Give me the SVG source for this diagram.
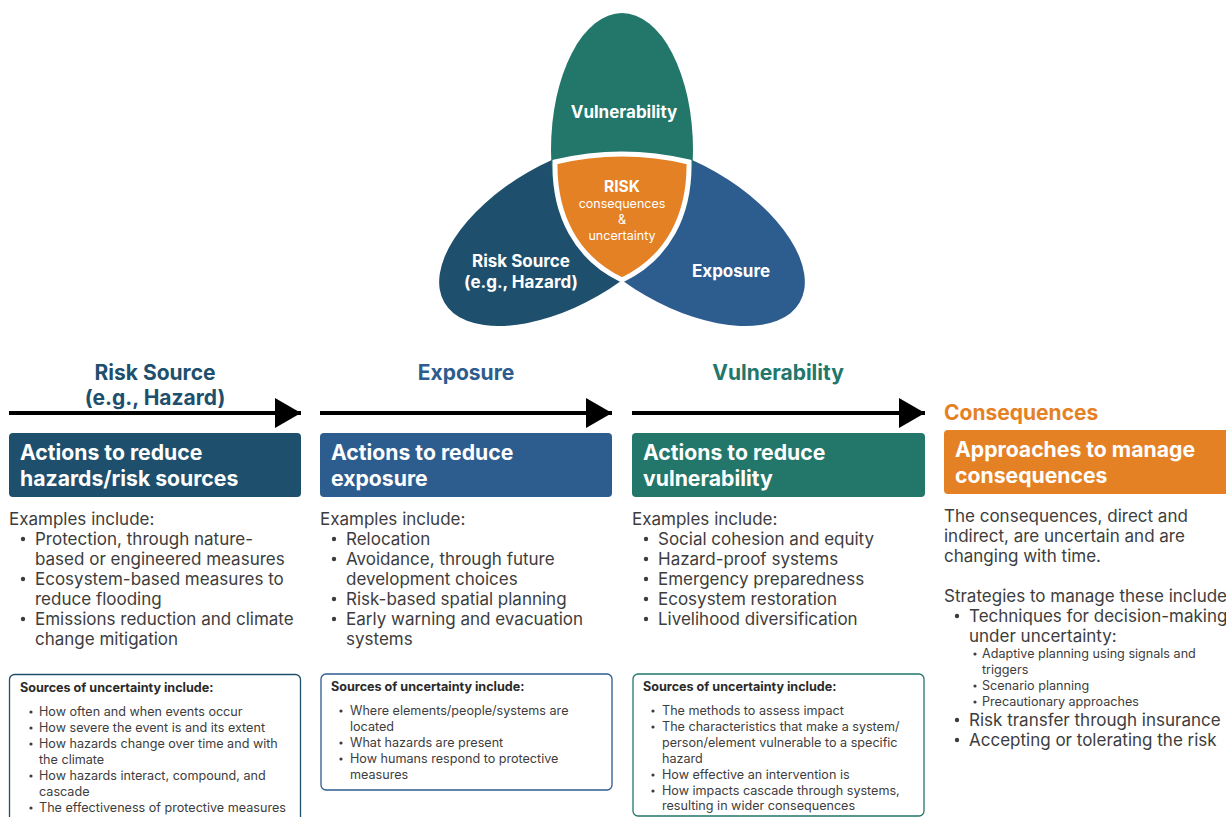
<svg xmlns="http://www.w3.org/2000/svg" width="1226" height="817" viewBox="0 0 1226 817">
  <defs>
    <style>
      text { font-family: Inter, "Liberation Sans", sans-serif; }
      .petal-label { fill: #ffffff; font-weight: 700; font-size: 17px; text-anchor: middle; }
      .risk-small { fill: #ffffff; font-size: 12.5px; text-anchor: middle; }
      .col-head { font-weight: 700; font-size: 21px; text-anchor: middle; }
      .box-title { fill: #ffffff; font-weight: 700; font-size: 21.2px; }
      .body { fill: #3d3d3d; font-size: 17px; }
      .small { fill: #3d3d3d; font-size: 12.6px; }
      .small-title { fill: #2a2a2a; font-size: 12.6px; font-weight: 700; }
      .sub { fill: #3d3d3d; font-size: 12.6px; }
      .dot { fill: #3d3d3d; }
      .arrow-line { stroke: #000000; stroke-width: 4; }
      .unc { fill: #ffffff; stroke-width: 1.3; }
    </style>
    <marker id="arrowhead" viewBox="0 0 26 30" refX="26" refY="15" markerWidth="26" markerHeight="30" markerUnits="userSpaceOnUse" orient="auto">
      <path d="M0,0 L26,15 L0,30 Z" fill="#000000"/>
    </marker>
    <clipPath id="upper-part">
      <rect x="0" y="0" width="1226" height="210"/>
    </clipPath>
  </defs>

  <rect width="1226" height="817" fill="#ffffff"/>

  <!-- Three-petal risk diagram -->
  <g id="venn">
    <g id="petal-risk-source">
      <ellipse cx="563" cy="234" rx="137" ry="71" transform="rotate(-30 563 234)" fill="#1e4f6c"/>
    </g>
    <g id="petal-exposure">
      <ellipse cx="681" cy="234" rx="137" ry="71" transform="rotate(30 681 234)" fill="#2d5c8e"/>
    </g>
    <g id="petal-vulnerability">
      <ellipse cx="622" cy="150" rx="71" ry="137" fill="#22766a" clip-path="url(#upper-part)"/>
    </g>
    <g id="risk-core">
      <path d="M555,162 Q622,146 689,162 C690,215 668,258 622,280 C576,258 554,215 555,162 Z" fill="#e58125" stroke="#ffffff" stroke-width="5" stroke-linejoin="miter"/>
      <text x="622" y="192" class="petal-label" style="font-size:15.5px">RISK</text>
      <text x="622" y="208" class="risk-small">consequences</text>
      <text x="622" y="224" class="risk-small">&amp;</text>
      <text x="622" y="240" class="risk-small">uncertainty</text>
    </g>
    <text x="624" y="118" class="petal-label">Vulnerability</text>
    <text x="521" y="267" class="petal-label">Risk Source</text>
    <text x="521" y="288" class="petal-label">(e.g., Hazard)</text>
    <text x="731" y="277" class="petal-label">Exposure</text>
  </g>

  <!-- Flow arrows between stages -->
  <g id="connectors">
    <line x1="9" y1="413" x2="301" y2="413" class="arrow-line" marker-end="url(#arrowhead)"/>
    <line x1="320" y1="413" x2="612" y2="413" class="arrow-line" marker-end="url(#arrowhead)"/>
    <line x1="632" y1="413" x2="925" y2="413" class="arrow-line" marker-end="url(#arrowhead)"/>
  </g>

  <!-- Column 1: risk source -->
  <g id="col-risk-source">
    <text x="155" y="380" class="col-head" fill="#1e4f6c">Risk Source</text>
    <text x="155" y="405" class="col-head" fill="#1e4f6c">(e.g., Hazard)</text>
    <rect x="9" y="433" width="292" height="64" rx="4" fill="#1e4f6c"/>
    <text x="20" y="460" class="box-title">Actions to reduce</text>
    <text x="20" y="486" class="box-title">hazards/risk sources</text>
    <text x="9" y="525" class="body">Examples include:</text>
    <circle cx="23" cy="539" r="2.2" class="dot"/>
    <text x="35" y="545" class="body">Protection, through nature-</text>
    <text x="35" y="565" class="body">based or engineered measures</text>
    <circle cx="23" cy="579" r="2.2" class="dot"/>
    <text x="35" y="585" class="body">Ecosystem-based measures to</text>
    <text x="35" y="605" class="body">reduce flooding</text>
    <circle cx="23" cy="619" r="2.2" class="dot"/>
    <text x="35" y="625" class="body">Emissions reduction and climate</text>
    <text x="35" y="645" class="body">change mitigation</text>
    <rect x="9.5" y="674.5" width="291" height="150" rx="5" class="unc" stroke="#1e4f6c"/>
    <text x="20" y="692" class="small-title">Sources of uncertainty include:</text>
    <circle cx="31" cy="712" r="1.6" class="dot"/>
    <text x="39" y="716" class="small">How often and when events occur</text>
    <circle cx="31" cy="728" r="1.6" class="dot"/>
    <text x="39" y="732" class="small">How severe the event is and its extent</text>
    <circle cx="31" cy="744" r="1.6" class="dot"/>
    <text x="39" y="748" class="small">How hazards change over time and with</text>
    <text x="39" y="764" class="small">the climate</text>
    <circle cx="31" cy="776" r="1.6" class="dot"/>
    <text x="39" y="780" class="small">How hazards interact, compound, and</text>
    <text x="39" y="796" class="small">cascade</text>
    <circle cx="31" cy="808" r="1.6" class="dot"/>
    <text x="39" y="812" class="small">The effectiveness of protective measures</text>
  </g>

  <!-- Column 2: exposure -->
  <g id="col-exposure">
    <text x="466" y="380" class="col-head" fill="#2d5c8e">Exposure</text>
    <rect x="320" y="433" width="292" height="64" rx="4" fill="#2d5c8e"/>
    <text x="331" y="460" class="box-title">Actions to reduce</text>
    <text x="331" y="486" class="box-title">exposure</text>
    <text x="320" y="525" class="body">Examples include:</text>
    <circle cx="334" cy="539" r="2.2" class="dot"/>
    <text x="346" y="545" class="body">Relocation</text>
    <circle cx="334" cy="559" r="2.2" class="dot"/>
    <text x="346" y="565" class="body">Avoidance, through future</text>
    <text x="346" y="585" class="body">development choices</text>
    <circle cx="334" cy="599" r="2.2" class="dot"/>
    <text x="346" y="605" class="body">Risk-based spatial planning</text>
    <circle cx="334" cy="619" r="2.2" class="dot"/>
    <text x="346" y="625" class="body">Early warning and evacuation</text>
    <text x="346" y="645" class="body">systems</text>
    <rect x="321" y="674" width="291" height="116" rx="5" class="unc" stroke="#2d5c8e"/>
    <text x="331" y="691" class="small-title">Sources of uncertainty include:</text>
    <circle cx="341" cy="711" r="1.6" class="dot"/>
    <text x="350" y="715" class="small">Where elements/people/systems are</text>
    <text x="350" y="731" class="small">located</text>
    <circle cx="341" cy="743" r="1.6" class="dot"/>
    <text x="350" y="747" class="small">What hazards are present</text>
    <circle cx="341" cy="759" r="1.6" class="dot"/>
    <text x="350" y="763" class="small">How humans respond to protective</text>
    <text x="350" y="779" class="small">measures</text>
  </g>

  <!-- Column 3: vulnerability -->
  <g id="col-vulnerability">
    <text x="778" y="380" class="col-head" fill="#22766a">Vulnerability</text>
    <rect x="632" y="433" width="293" height="64" rx="4" fill="#22766a"/>
    <text x="643" y="460" class="box-title">Actions to reduce</text>
    <text x="643" y="486" class="box-title">vulnerability</text>
    <text x="632" y="525" class="body">Examples include:</text>
    <circle cx="646" cy="539" r="2.2" class="dot"/>
    <text x="658" y="545" class="body">Social cohesion and equity</text>
    <circle cx="646" cy="559" r="2.2" class="dot"/>
    <text x="658" y="565" class="body">Hazard-proof systems</text>
    <circle cx="646" cy="579" r="2.2" class="dot"/>
    <text x="658" y="585" class="body">Emergency preparedness</text>
    <circle cx="646" cy="599" r="2.2" class="dot"/>
    <text x="658" y="605" class="body">Ecosystem restoration</text>
    <circle cx="646" cy="619" r="2.2" class="dot"/>
    <text x="658" y="625" class="body">Livelihood diversification</text>
    <rect x="633" y="674" width="291" height="142" rx="5" class="unc" stroke="#22766a"/>
    <text x="643" y="691" class="small-title">Sources of uncertainty include:</text>
    <circle cx="653" cy="711" r="1.6" class="dot"/>
    <text x="662" y="715" class="small">The methods to assess impact</text>
    <circle cx="653" cy="727" r="1.6" class="dot"/>
    <text x="662" y="731" class="small">The characteristics that make a system/</text>
    <text x="662" y="747" class="small">person/element vulnerable to a specific</text>
    <text x="662" y="763" class="small">hazard</text>
    <circle cx="653" cy="775" r="1.6" class="dot"/>
    <text x="662" y="779" class="small">How effective an intervention is</text>
    <circle cx="653" cy="791" r="1.6" class="dot"/>
    <text x="662" y="795" class="small">How impacts cascade through systems,</text>
    <text x="662" y="810" class="small">resulting in wider consequences</text>
  </g>

  <!-- Column 4: consequences -->
  <g id="col-consequences">
    <text x="944" y="420" font-weight="700" font-size="21px" fill="#e58125">Consequences</text>
    <rect x="944" y="430" width="290" height="64" rx="4" fill="#e58125"/>
    <text x="955" y="457" class="box-title">Approaches to manage</text>
    <text x="955" y="483" class="box-title">consequences</text>
    <text x="944" y="522" class="body">The consequences, direct and</text>
    <text x="944" y="542" class="body">indirect, are uncertain and are</text>
    <text x="944" y="562" class="body">changing with time.</text>
    <text x="944" y="602" class="body">Strategies to manage these include</text>
    <circle cx="957" cy="616" r="2.2" class="dot"/>
    <text x="969" y="622" class="body">Techniques for decision-making</text>
    <text x="969" y="642" class="body">under uncertainty:</text>
    <circle cx="975" cy="654" r="1.6" class="dot"/>
    <text x="982" y="658" class="sub">Adaptive planning using signals and</text>
    <text x="982" y="674" class="sub">triggers</text>
    <circle cx="975" cy="686" r="1.6" class="dot"/>
    <text x="982" y="690" class="sub">Scenario planning</text>
    <circle cx="975" cy="702" r="1.6" class="dot"/>
    <text x="982" y="706" class="sub">Precautionary approaches</text>
    <circle cx="957" cy="720" r="2.2" class="dot"/>
    <text x="969" y="726" class="body">Risk transfer through insurance</text>
    <circle cx="957" cy="740" r="2.2" class="dot"/>
    <text x="969" y="746" class="body">Accepting or tolerating the risk</text>
  </g>
</svg>
